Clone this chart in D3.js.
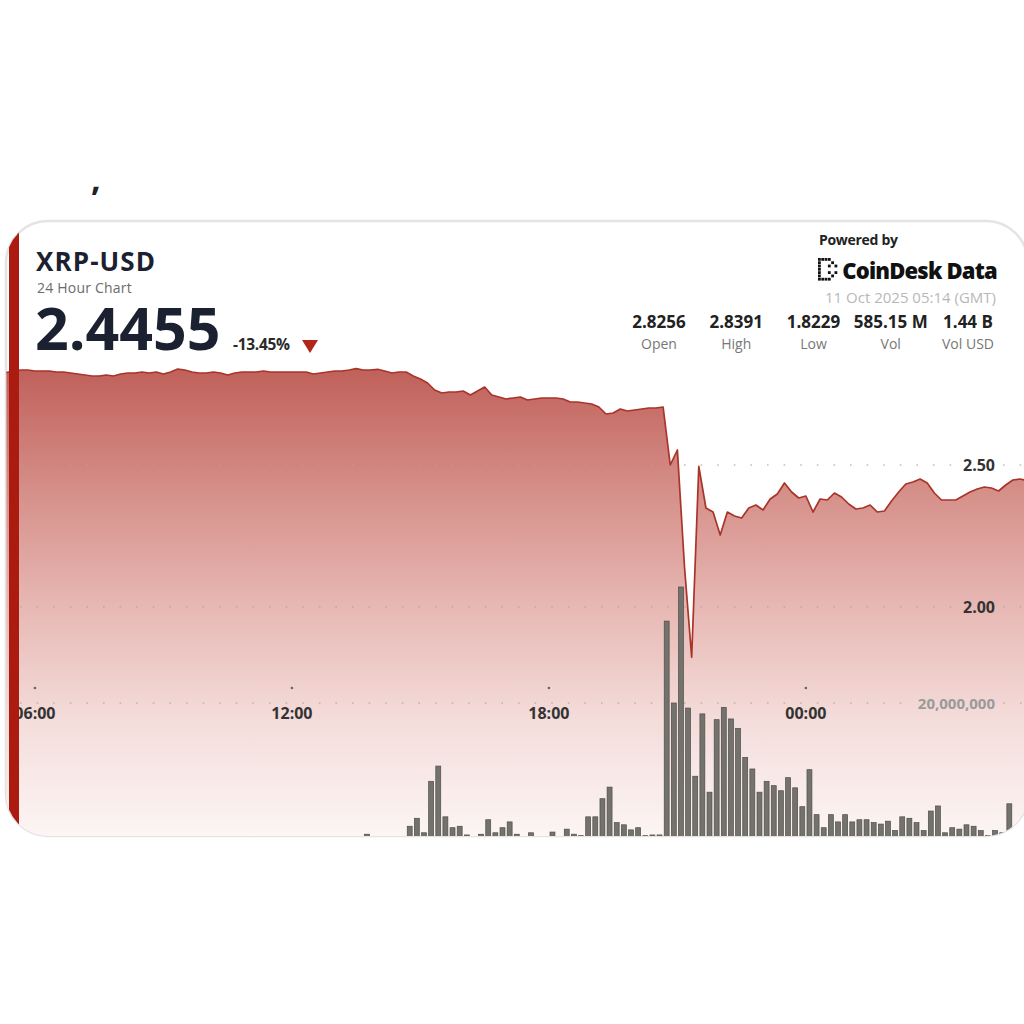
<!DOCTYPE html>
<html>
<head>
<meta charset="utf-8">
<script src="https://cdn.jsdelivr.net/npm/d3@7"></script>
<style>
  body { margin: 0; background: #fff; }
  svg { display: block; }
  text { font-family: "Open Sans", "DejaVu Sans", sans-serif; }
</style>
</head>
<body>
<div id="chart"></div>
<script>
// 10-minute samples, first one at 05:20 GMT on 10 Oct 2025
const startTime = new Date("2025-10-10T05:20:00Z");
const stepMinutes = 10;

const prices = [
  2.8256, 2.8310, 2.8345, 2.8345, 2.8310, 2.8310, 2.8310, 2.8275, 2.8275, 2.8239,
  2.8204, 2.8169, 2.8134, 2.8134, 2.8169, 2.8134, 2.8204, 2.8239, 2.8239, 2.8275,
  2.8239, 2.8275, 2.8204, 2.8275, 2.8380, 2.8345, 2.8275, 2.8239, 2.8239, 2.8275,
  2.8239, 2.8169, 2.8239, 2.8275, 2.8275, 2.8275, 2.8310, 2.8275, 2.8275, 2.8275,
  2.8275, 2.8275, 2.8275, 2.8204, 2.8239, 2.8275, 2.8310, 2.8310, 2.8345, 2.8391,
  2.8345, 2.8345, 2.8370, 2.8310, 2.8239, 2.8275, 2.8275, 2.8134, 2.8028, 2.7887,
  2.7641, 2.7535, 2.7570, 2.7570, 2.7606, 2.7465, 2.7606, 2.7746, 2.7465, 2.7394,
  2.7324, 2.7359, 2.7394, 2.7289, 2.7324, 2.7359, 2.7359, 2.7359, 2.7324, 2.7218,
  2.7218, 2.7183, 2.7148, 2.7042, 2.6796, 2.6831, 2.6972, 2.6901, 2.6937, 2.6972,
  2.7007, 2.7007, 2.7042, 2.5000, 2.5528, 2.1400, 1.8229, 2.4950, 2.3486, 2.3345,
  2.2535, 2.3345, 2.3204, 2.3134, 2.3486, 2.3592, 2.3415, 2.3803, 2.3979, 2.4366,
  2.4049, 2.3838, 2.3908, 2.3345, 2.3803, 2.3768, 2.4014, 2.3873, 2.3627, 2.3451,
  2.3486, 2.3592, 2.3345, 2.3380, 2.3732, 2.4049, 2.4331, 2.4401, 2.4507, 2.4366,
  2.4014, 2.3768, 2.3768, 2.3768, 2.3908, 2.4049, 2.4155, 2.4225, 2.4190, 2.4085,
  2.4296, 2.4472, 2.4507, 2.4455
];

// volume per 10 minutes, in millions of XRP
const volumesM = [
  1.2, 0.9, 1.1, 1.4, 1.0, 0.8, 1.3, 1.1, 0.9, 1.0,
  1.2, 1.5, 1.1, 0.9, 1.0, 1.3, 1.2, 0.8, 0.9, 1.1,
  1.0, 1.2, 0.9, 1.4, 1.6, 1.1, 1.0, 0.9, 1.2, 1.1,
  1.0, 1.3, 1.5, 1.2, 1.0, 0.9, 1.1, 1.2, 1.0, 1.3,
  1.1, 1.2, 1.4, 1.0, 1.1, 1.3, 1.2, 1.5, 1.4, 1.6,
  1.9, 1.2, 1.0, 1.4, 1.3, 1.5, 3.0, 4.1, 2.1, 9.2,
  11.3, 4.3, 2.8, 3.0, 1.8, 1.5, 1.9, 3.9, 2.1, 2.8,
  3.6, 1.9, 1.4, 2.1, 1.5, 1.3, 2.2, 1.6, 2.6, 1.9,
  1.7, 4.3, 4.3, 6.8, 8.4, 3.5, 3.2, 2.5, 2.8, 1.7,
  1.8, 1.8, 31.3, 20.0, 36.0, 19.3, 9.9, 18.5, 7.7, 17.7,
  19.4, 17.8, 16.5, 12.5, 10.9, 7.7, 9.2, 8.6, 7.9, 9.7,
  8.3, 5.7, 10.8, 4.6, 2.8, 4.6, 3.6, 4.6, 3.6, 3.9,
  3.9, 3.5, 3.3, 3.7, 2.4, 4.3, 4.1, 3.5, 2.4, 5.1,
  5.8, 2.1, 2.8, 2.6, 3.2, 3.0, 2.4, 1.7, 2.4, 2.1,
  6.1, 2.0, 2.4, 2.2
];

const priceTicks = [2.0, 2.5];
const volumeTicks = [20000000];
const timeTicks = ["2025-10-10T06:00:00Z", "2025-10-10T12:00:00Z", "2025-10-10T18:00:00Z", "2025-10-11T00:00:00Z"];

const statValues = ["2.8256", "2.8391", "1.8229", "585.15 M", "1.44 B"];
const statLabels = ["Open", "High", "Low", "Vol", "Vol USD"];

const lastPrice = "2.4455";
const changePct = "-13.45%";
const updated = "11 Oct 2025 05:14 (GMT)";

// logo cells [col,row] of the dotted bracket mark
const logoCells = [[0,0],[1,0],[2,0],[3,0],[0,1],[0,2],[0,3],[0,4],[0,5],[0,6],[1,6],[2,6],[3,6],[3,2],[3,4],[5,2],[5,4],[4,1],[4,5]];

const W = 1024, H = 1024;
const card = { x: 6, y: 221, w: 1022, h: 615, r: 42 };

const svg = d3.select("#chart").append("svg")
  .attr("width", W)
  .attr("height", H);

const defs = svg.append("defs");
defs.append("clipPath").attr("id", "cardClip")
  .append("rect")
  .attr("x", card.x).attr("y", card.y)
  .attr("width", card.w).attr("height", card.h)
  .attr("rx", card.r);

const grad = defs.append("linearGradient")
  .attr("id", "areaGrad")
  .attr("gradientUnits", "userSpaceOnUse")
  .attr("x1", 0).attr("x2", 0)
  .attr("y1", 368).attr("y2", 840);
[[0, "#c0605a"], [0.25, "#d58d87"], [0.5, "#e7b7b3"], [0.75, "#f4dddb"], [1, "#fcf6f5"]]
  .forEach(s => grad.append("stop").attr("offset", s[0]).attr("stop-color", s[1]));

// stray glyph from the cropped screenshot above
svg.append("text")
  .attr("x", 91).attr("y", 191)
  .style("font-size", "34px")
  .style("font-weight", 700)
  .style("fill", "#222")
  .text(",");

// card
svg.append("rect")
  .attr("x", card.x).attr("y", card.y)
  .attr("width", card.w).attr("height", card.h)
  .attr("rx", card.r)
  .style("fill", "#fff")
  .style("stroke", "#e4e4e4")
  .style("stroke-width", 2.5);

// Scales
const times = prices.map((d, i) => new Date(startTime.getTime() + i * stepMinutes * 60000));
const endTime = new Date(startTime.getTime() + prices.length * stepMinutes * 60000);

const x = d3.scaleUtc()
  .domain([startTime, endTime])
  .range([6.4, 1034.3]);

const y = d3.scaleLinear()
  .domain([2.0, 2.5])
  .range([607, 465]);

const yVol = d3.scaleLinear()
  .domain([0, 20000000])
  .range([848, 703]);

const plot = svg.append("g").attr("clip-path", "url(#cardClip)");

// Price area
const area = d3.area()
  .x((d, i) => x(times[i]))
  .y0(845)
  .y1(d => y(d));

plot.append("path")
  .datum(prices)
  .attr("d", area)
  .style("fill", "url(#areaGrad)");

// Grid lines (dotted), with a gap around the right-hand label
function gridLine(yPos, label, color, size) {
  const t = plot.append("text")
    .attr("x", 995).attr("y", yPos + 5.5)
    .attr("text-anchor", "end")
    .style("font-size", size)
    .style("font-weight", 700)
    .style("fill", color)
    .text(label);
  const bb = t.node().getBBox();
  [[20, bb.x - 6], [bb.x + bb.width + 8, 1024]].forEach(seg => {
    plot.insert("line", "text")
      .attr("x1", seg[0]).attr("x2", seg[1])
      .attr("y1", yPos).attr("y2", yPos)
      .style("stroke", "#a9a2a2")
      .style("stroke-opacity", 0.7)
      .style("stroke-width", 1.6)
      .style("stroke-dasharray", "1.6,15");
  });
}

priceTicks.forEach(p => gridLine(y(p), d3.format(".2f")(p), "#333", "16px"));
volumeTicks.forEach(v => gridLine(yVol(v), d3.format(",")(v), "#9a9a9a", "15px"));

// Volume bars
const barW = x(times[1]) - x(times[0]);
plot.append("g")
  .selectAll("rect")
  .data(volumesM)
  .enter()
  .append("rect")
  .attr("x", (d, i) => x(times[i]) + 1.1)
  .attr("y", d => yVol(d * 1e6))
  .attr("width", barW - 2.2)
  .attr("height", d => yVol(0) - yVol(d * 1e6))
  .style("fill", "#74726c")
  .style("stroke", "#4f4d49")
  .style("stroke-width", 0.7);

// Price line
const line = d3.line()
  .x((d, i) => x(times[i]))
  .y(d => y(d));

plot.append("path")
  .datum(prices)
  .attr("d", line)
  .style("fill", "none")
  .style("stroke", "#a9342a")
  .style("stroke-width", 1.7)
  .style("stroke-linejoin", "round");

// Time axis: dot ticks and labels
const fmtTime = d3.utcFormat("%H:%M");
timeTicks.forEach(t => {
  const tx = x(new Date(t));
  plot.append("circle")
    .attr("cx", tx).attr("cy", 688)
    .attr("r", 1.3)
    .style("fill", "#666");
  plot.append("text")
    .attr("x", tx).attr("y", 719)
    .attr("text-anchor", "middle")
    .style("font-size", "16px")
    .style("font-weight", 700)
    .style("fill", "#333")
    .text(fmtTime(new Date(t)));
});

// Red accent bar on the left edge
plot.append("rect")
  .attr("x", 9).attr("y", card.y)
  .attr("width", 10).attr("height", card.h)
  .style("fill", "#ab1b10");

// Header left
svg.append("text")
  .attr("x", 36).attr("y", 271)
  .style("font-size", "26px")
  .style("font-weight", 700)
  .style("letter-spacing", "1.1px")
  .style("fill", "#1b2130")
  .text("XRP-USD");

svg.append("text")
  .attr("x", 37).attr("y", 293)
  .style("font-size", "14px")
  .style("letter-spacing", "0.2px")
  .style("fill", "#6b6b6b")
  .text("24 Hour Chart");

svg.append("text")
  .attr("x", 35).attr("y", 350)
  .style("font-size", "59px")
  .style("font-weight", 700)
  .style("fill", "#1b2130")
  .text(lastPrice);

svg.append("text")
  .attr("x", 233).attr("y", 350)
  .style("font-size", "15.5px")
  .style("font-weight", 700)
  .style("letter-spacing", "-0.3px")
  .style("fill", "#2a2a2a")
  .text(changePct);

svg.append("path")
  .attr("d", "M302,340 L318,340 L310,353 Z")
  .style("fill", "#b3241a");

// Header right
svg.append("text")
  .attr("x", 819).attr("y", 245)
  .style("font-size", "14px")
  .style("font-weight", 700)
  .style("letter-spacing", "-0.3px")
  .style("fill", "#222")
  .text("Powered by");

const logo = svg.append("g").attr("transform", "translate(818,258)");
logo.selectAll("rect")
  .data(logoCells)
  .enter()
  .append("rect")
  .attr("x", d => d[0] * 3.3)
  .attr("y", d => d[1] * 3.3)
  .attr("width", 2.8).attr("height", 2.8)
  .style("fill", "#111");

svg.append("text")
  .attr("x", 997).attr("y", 279)
  .attr("text-anchor", "end")
  .style("font-size", "22px")
  .style("font-weight", 800)
  .style("letter-spacing", "-0.8px")
  .style("fill", "#111")
  .text("CoinDesk Data");

svg.append("text")
  .attr("x", 996).attr("y", 303)
  .attr("text-anchor", "end")
  .style("font-size", "15px")
  .style("fill", "#b8b8b8")
  .text(updated);

const statX = d3.scalePoint()
  .domain(statLabels)
  .range([659, 968]);

statLabels.forEach((lab, i) => {
  svg.append("text")
    .attr("x", statX(lab)).attr("y", 328)
    .attr("text-anchor", "middle")
    .style("font-size", "17px")
    .style("font-weight", 700)
    .style("fill", "#222")
    .text(statValues[i]);
  svg.append("text")
    .attr("x", statX(lab)).attr("y", 349)
    .attr("text-anchor", "middle")
    .style("font-size", "14px")
    .style("fill", "#777")
    .text(lab);
});
</script>
</body>
</html>
